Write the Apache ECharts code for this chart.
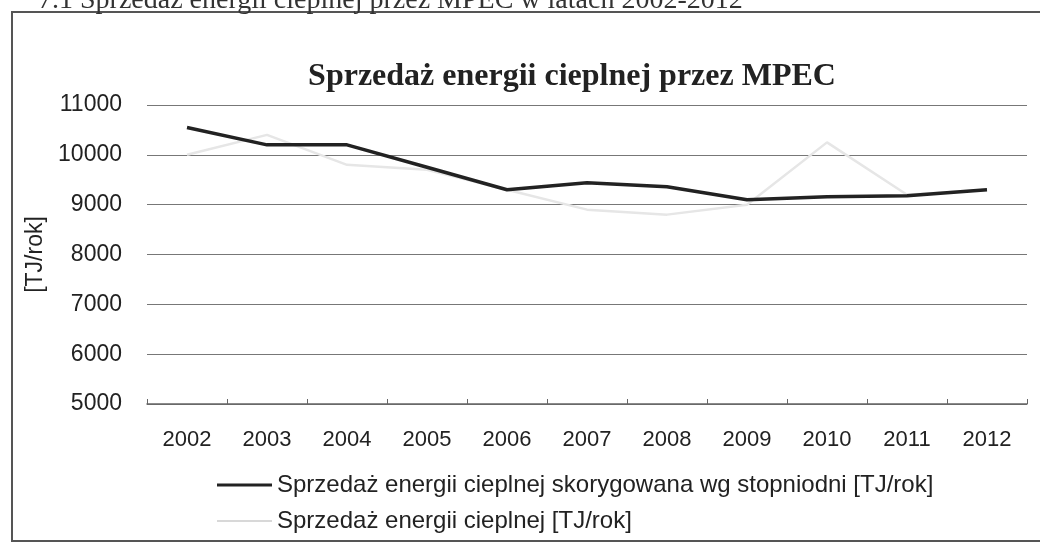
<!DOCTYPE html>
<html lang="pl">
<head>
    <meta charset="UTF-8">
    <title>Sprzedaż energii cieplnej przez MPEC</title>
    <script src="https://cdn.jsdelivr.net/npm/echarts@6/dist/echarts.min.js"></script>
    <style>
        html, body { margin: 0; padding: 0; background: #fff; }
        #main { width: 1040px; height: 544px; }
    </style>
</head>
<body>
<div id="main"></div>
<script>
    var years = ['2002', '2003', '2004', '2005', '2006', '2007', '2008', '2009', '2010', '2011', '2012'];
    // skorygowana wg stopniodni
    var corrected = [10550, 10200, 10200, 9750, 9300, 9440, 9360, 9100, 9160, 9180, 9300];
    // rzeczywista sprzedaz
    var actual = [10000, 10400, 9800, 9700, 9300, 8900, 8800, 9000, 10250, 9200, 9300];
    var yTicks = [5000, 6000, 7000, 8000, 9000, 10000, 11000];

    var chart = echarts.init(document.getElementById('main'));
    var sans = 'Liberation Sans';

    chart.setOption({
        backgroundColor: '#fff',
        animation: false,
        title: {
            text: 'Sprzedaż energii cieplnej przez MPEC',
            left: 567,
            textAlign: 'center',
            top: 56,
            textStyle: {fontFamily: 'Liberation Serif', fontSize: 32, fontWeight: 'bold', color: '#222'}
        },
        graphic: [
            {
                type: 'rect',
                shape: {x: 12, y: 12, width: 1040, height: 529},
                style: {fill: 'none', stroke: '#555', lineWidth: 2}
            },
            {
                type: 'text',
                left: 38,
                top: -13,
                style: {
                    text: '7.1 Sprzedaż energii cieplnej przez MPEC w latach 2002-2012',
                    font: '28px "Liberation Serif"',
                    fill: '#333'
                }
            }
        ],
        legend: {
            orient: 'vertical',
            left: 212,
            top: 468,
            itemGap: 12,
            itemWidth: 55,
            itemHeight: 14,
            textStyle: {fontFamily: sans, fontSize: 24, color: '#222', lineHeight: 24},
            data: [
                {name: 'Sprzedaż energii cieplnej skorygowana wg stopniodni [TJ/rok]', icon: 'path://M0,6 L55,6 L55,9 L0,9 Z'},
                {name: 'Sprzedaż energii cieplnej [TJ/rok]', icon: 'path://M0,6 L55,6 L55,8 L0,8 Z'}
            ]
        },
        grid: {left: 147, right: 13, top: 105, bottom: 140},
        xAxis: {
            type: 'category',
            data: years,
            boundaryGap: true,
            axisLine: {lineStyle: {color: '#666', width: 1.5}},
            axisTick: {show: true, inside: true, length: 5, lineStyle: {color: '#666'}},
            axisLabel: {fontFamily: sans, fontSize: 22, color: '#222', margin: 25}
        },
        yAxis: {
            type: 'value',
            min: yTicks[0],
            max: yTicks[yTicks.length - 1],
            interval: 1000,
            name: '[TJ/rok]',
            nameLocation: 'middle',
            nameGap: 88,
            nameRotate: 90,
            nameTextStyle: {fontFamily: sans, fontSize: 23, color: '#222'},
            axisLine: {show: false},
            axisTick: {show: false},
            splitLine: {lineStyle: {color: '#777', width: 1.2}},
            axisLabel: {
                fontFamily: sans, fontSize: 23, color: '#222', margin: 25,
                formatter: function (v) { return String(v); }
            }
        },
        series: [
            {
                name: 'Sprzedaż energii cieplnej skorygowana wg stopniodni [TJ/rok]',
                type: 'line',
                data: corrected,
                symbol: 'none',
                z: 3,
                lineStyle: {color: '#222', width: 3.5},
                itemStyle: {color: '#222'}
            },
            {
                name: 'Sprzedaż energii cieplnej [TJ/rok]',
                type: 'line',
                data: actual,
                symbol: 'none',
                z: 2,
                lineStyle: {color: '#e6e6e6', width: 2.5},
                itemStyle: {color: '#d8d8d8'}
            }
        ]
    });
</script>
</body>
</html>
